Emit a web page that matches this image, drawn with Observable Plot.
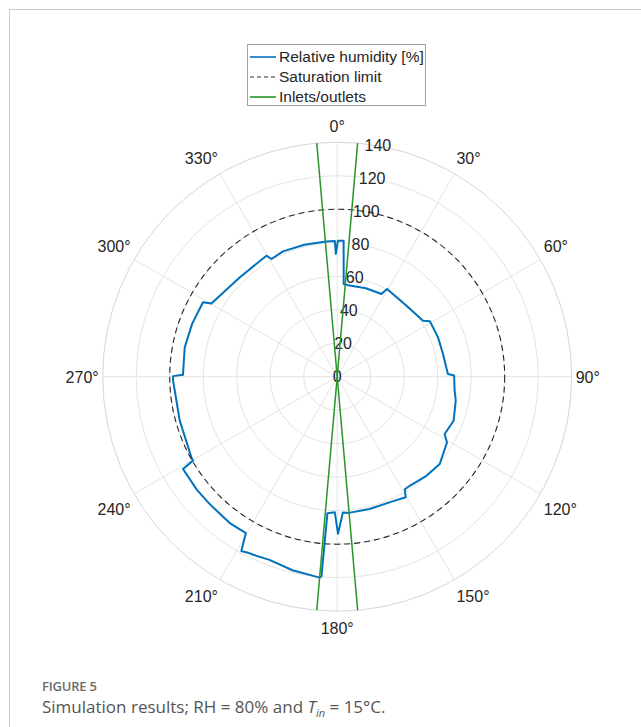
<!DOCTYPE html>
<html>
<head>
<meta charset="utf-8">
<script src="https://cdn.jsdelivr.net/npm/d3@7"></script>
<script src="https://cdn.jsdelivr.net/npm/@observablehq/plot@0.6"></script>
<style>
  body { margin: 0; background: #fff; }
  #page { position: relative; width: 641px; height: 727px; overflow: hidden; background: #fff; }
  #frame { position: absolute; left: 9px; top: 9px; width: 700px; height: 800px;
           border-left: 1px solid #c9c9c9; border-top: 1px solid #c9c9c9; }
  #chart { position: absolute; left: 0; top: 0; }
  #legend { position: absolute; left: 247px; top: 44px; width: 179px; height: 62px;
            border: 1px solid #a3a3a3; background: #fff; box-sizing: border-box;
            font-family: "Liberation Sans", Arial, sans-serif; font-size: 15.5px; color: #262626; }
  .row { position: absolute; left: 2px; height: 20px; display: flex; align-items: center; }
  .row svg { margin-right: 3px; }
  #fig { position: absolute; left: 42px; top: 677px; font-family: "Open Sans", sans-serif;
         font-weight: 600; font-size: 13px; color: #6b6b6b; letter-spacing: -0.2px; }
  #caption { position: absolute; left: 42px; top: 695px; font-family: "Open Sans", sans-serif;
             font-size: 17px; color: #555; }
</style>
</head>
<body>
<div id="page">
  <div id="frame"></div>
  <div id="chart"></div>
  <div id="legend"></div>
  <div id="fig">FIGURE 5</div>
  <div id="caption">Simulation results; RH = 80% and <i>T</i><sub style="font-size:11px"><i>in</i></sub> = 15°C.</div>
</div>
<script>
// Polar axis ticks
const thetaTicks = [0, 30, 60, 90, 120, 150, 180, 210, 240, 270, 300, 330];
const rTicks = [0, 20, 40, 60, 80, 100, 120, 140];
const rMax = 140;

// Relative humidity along the wall, angle in degrees (clockwise from top) and RH in %
const rhAngle = [0.3, 2.7, 4.0, 7.8, 18, 28.1, 29.6, 44.3, 56.9, 59.1, 68.7, 77.9, 88.6, 89.4,
  96.8, 101.4, 110.7, 118.1, 120.9, 130.4, 138, 146.4, 149, 150.4, 156.4, 166.2, 175.1, 177.6, 179.7,
  181, 184.1, 184.5, 185, 193, 200.3, 205.2, 206.9, 208.8, 210.3, 216.4, 225, 231, 239.1,
  239.8, 241, 254.4, 268.6, 270.2, 270.7, 280.9, 290, 299.0, 300.2, 315.5, 329.7, 330.8,
  336.6, 346, 355.4, 359.0, 359.4, 360.3];
const rhValue = [81.2, 81.3, 55.5, 54.9, 55.5, 56.0, 60.2, 59.2, 61.2, 64.5, 64.6, 64.6, 66.1, 69.8,
  70.6, 72.2, 74.3, 72.7, 76.4, 80.4, 79.6, 78.2, 78.4, 82.8, 81.4, 81.3, 81.6, 81.1, 93.8,
  81.0, 81.8, 119.5, 120.4, 118.6, 116.6, 117.5, 117.8, 118.8, 108.1, 108.4, 107.6, 107.6, 107.3,
  99.6, 99.5, 97.6, 98.0, 98.0, 92.1, 92.7, 92.2, 91.6, 86.9, 83.1, 83.7, 80.5,
  81.5, 81.2, 81.0, 81.0, 73.3, 81.2];

// Saturation limit (RH = 100 %) and the inlet/outlet directions
const saturation = [100];
const inletAngles = [5, 175, 185, 355];

const seriesNames = ["Relative humidity [%]", "Saturation limit", "Inlets/outlets"];
const seriesColors = ["#0072BD", "#262626", "#2a942a"];
const seriesDash = [null, "4,3", null];

const rad = d => d * Math.PI / 180;
const px = (a, r) => r * Math.sin(rad(a));
const py = (a, r) => r * Math.cos(rad(a));

const rh = rhAngle.map((a, i) => ({a, v: rhValue[i]}));
const R = 234.5;                 // pixel radius of the outer ring
const unit = R / rMax;           // pixels per % RH
const rAxisAngle = 10;           // direction of the radial tick labels
const labelR = rMax + 4 / unit;  // theta labels sit just outside the outer ring
const gridColor = "#e4e4e4";
const cx = 336.7, cy = 376.2, W = 641, H = 650;

// theta labels: anchored away from the ring depending on where they sit
const hAnchor = d => (d % 180 === 0 ? "middle" : d < 180 ? "start" : "end");
const vShift = d => (d === 90 || d === 270 ? 1 : (d < 90 || d > 270) ? -11 : 13.8);
const labelGroups = d3.groups(thetaTicks, d => `${hAnchor(d)}|${vShift(d)}`);
const thetaLabelMarks = labelGroups.map(([key, ticks]) => {
  const [anchor, shift] = key.split("|");
  return Plot.text(ticks, {x: d => px(d, labelR), y: d => py(d, labelR), text: d => `${d}°`,
    textAnchor: anchor, dy: +shift, fontSize: 16, fill: "#262626"});
});

const chart = Plot.plot({
  width: W,
  height: H,
  marginLeft: cx - R,
  marginRight: W - cx - R,
  marginTop: cy - R,
  marginBottom: H - cy - R,
  x: {domain: [-rMax, rMax], axis: null},
  y: {domain: [-rMax, rMax], axis: null},
  r: {type: "linear", domain: [0, rMax], range: [0, R]},
  style: {fontFamily: "'Liberation Sans', Arial, sans-serif", fontSize: "16px", background: "transparent"},
  marks: [
    // concentric grid rings
    Plot.dot(rTicks.filter(d => d > 0 && d < rMax), {x: () => 0, y: () => 0, r: d => d,
      fill: "none", stroke: gridColor, strokeWidth: 1}),
    // angular spokes
    Plot.link(thetaTicks, {x1: () => 0, y1: () => 0, x2: d => px(d, rMax), y2: d => py(d, rMax),
      stroke: gridColor, strokeWidth: 1}),
    // outer boundary
    Plot.dot([rMax], {x: () => 0, y: () => 0, r: d => d, fill: "none", stroke: "#d6d6d6", strokeWidth: 1}),
    // radial tick labels
    Plot.text(rTicks, {x: d => px(rAxisAngle, d), y: d => py(rAxisAngle, d), text: d => String(d),
      fontSize: 16, fill: "#262626"}),
    // angular tick labels
    ...thetaLabelMarks,
    // relative humidity
    Plot.line(rh, {x: d => px(d.a, d.v), y: d => py(d.a, d.v), stroke: seriesColors[0],
      strokeWidth: 2, strokeLinejoin: "round"}),
    // saturation limit
    Plot.dot(saturation, {x: () => 0, y: () => 0, r: d => d, fill: "none", stroke: seriesColors[1],
      strokeWidth: 1.1, strokeDasharray: "6,4"}),
    // inlets / outlets
    Plot.link(inletAngles, {x1: () => 0, y1: () => 0, x2: d => px(d, rMax), y2: d => py(d, rMax),
      stroke: seriesColors[2], strokeWidth: 1.5})
  ]
});
document.getElementById("chart").appendChild(chart);

// legend
const legend = document.getElementById("legend");
seriesNames.forEach((name, i) => {
  const row = document.createElement("div");
  row.className = "row";
  row.style.top = `${2 + i * 20}px`;
  const dash = seriesDash[i] ? `stroke-dasharray="${seriesDash[i]}"` : "";
  row.innerHTML = `<svg width="26" height="6"><line x1="0" y1="3" x2="26" y2="3" stroke="${seriesColors[i]}" stroke-width="${i === 1 ? 1 : 1.6}" ${dash}/></svg><span>${name}</span>`;
  legend.appendChild(row);
});
</script>
</body>
</html>
